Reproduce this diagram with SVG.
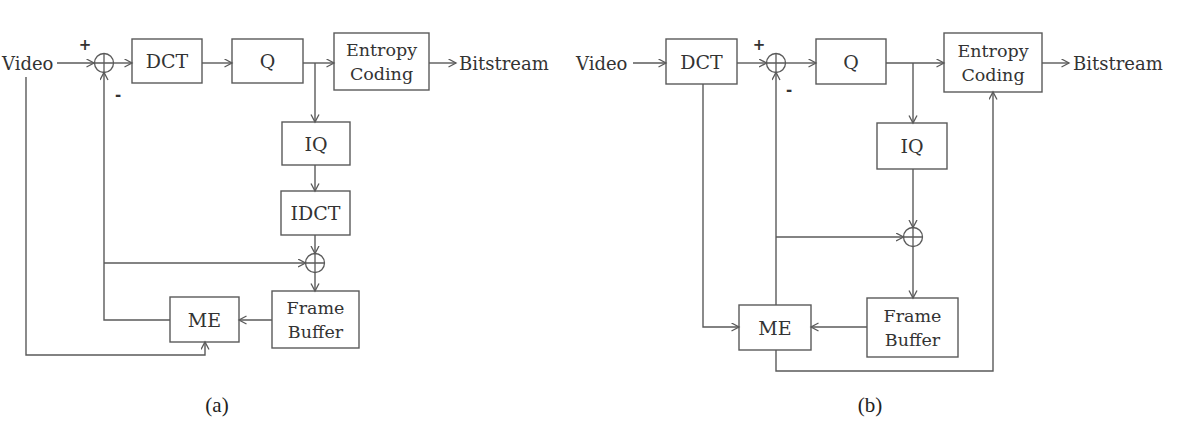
<svg xmlns="http://www.w3.org/2000/svg" width="1182" height="427" viewBox="0 0 1182 427">
  <style>
    .box { fill: #ffffff; stroke: #5a5a5a; stroke-width: 1.4; }
    .sum { fill: none; stroke: #5a5a5a; stroke-width: 1.3; }
    .wire { fill: none; stroke: #5a5a5a; stroke-width: 1.4; }
    .arr { marker-end: url(#head); }
    .lbl { font-family: "DejaVu Serif", "Liberation Serif", serif; font-size: 17.5px; fill: #333333; text-anchor: middle; dominant-baseline: central; }
    .big { font-size: 19px; }
    .io { font-family: "DejaVu Serif", "Liberation Serif", serif; font-size: 18px; fill: #333333; dominant-baseline: central; }
    .sign { font-family: "DejaVu Sans", "Liberation Sans", sans-serif; font-size: 15px; font-weight: bold; fill: #333333; text-anchor: middle; dominant-baseline: central; }
    .cap { font-family: "Liberation Serif", "Times New Roman", serif; font-size: 21px; fill: #222222; text-anchor: middle; dominant-baseline: central; }
  </style>
  <defs>
    <marker id="head" markerUnits="userSpaceOnUse" markerWidth="10" markerHeight="10" refX="8" refY="4.5" orient="auto">
      <path d="M0.5,0.5 L8,4.5 L0.5,8.5" fill="none" stroke="#5a5a5a" stroke-width="1.3"/>
    </marker>
  </defs>
  <rect width="1182" height="427" fill="#ffffff"/>

  <!-- (a) encoder with IDCT reconstruction loop -->
  <g id="a-video"><text class="io" x="2" y="63">Video</text></g>
  <g id="a-sum1">
    <circle class="sum" cx="104" cy="63" r="9.5"/>
    <path class="sum" d="M94.5,63 H113.5 M104,53.5 V72.5"/>
    <text class="sign" x="85" y="45">+</text>
    <text class="sign" x="118" y="95">-</text>
  </g>
  <g id="a-dct"><rect class="box" x="132" y="39" width="70" height="44"/><text class="lbl big" x="167" y="61">DCT</text></g>
  <g id="a-q"><rect class="box" x="232" y="39" width="71" height="44"/><text class="lbl big" x="267.5" y="61">Q</text></g>
  <g id="a-ec"><rect class="box" x="334" y="33" width="95" height="57"/><text class="lbl" x="381.5" y="50">Entropy</text><text class="lbl" x="381.5" y="74">Coding</text></g>
  <g id="a-bitstream"><text class="io" x="459" y="63">Bitstream</text></g>
  <g id="a-iq"><rect class="box" x="282" y="122" width="68" height="43"/><text class="lbl big" x="316" y="143.5">IQ</text></g>
  <g id="a-idct"><rect class="box" x="281" y="191" width="69" height="44"/><text class="lbl big" x="315.5" y="213">IDCT</text></g>
  <g id="a-sum2">
    <circle class="sum" cx="315" cy="263" r="9.5"/>
    <path class="sum" d="M305.5,263 H324.5 M315,253.5 V272.5"/>
  </g>
  <g id="a-me"><rect class="box" x="170" y="297" width="69" height="45"/><text class="lbl big" x="204.5" y="319.5">ME</text></g>
  <g id="a-fb"><rect class="box" x="272" y="291" width="87" height="57"/><text class="lbl" x="315.5" y="308">Frame</text><text class="lbl" x="315.5" y="332">Buffer</text></g>

  <g id="a-connectors">
    <path class="wire arr" d="M57,63 H94"/>
    <path class="wire arr" d="M113.5,63 H132"/>
    <path class="wire arr" d="M202,63 H232"/>
    <path class="wire arr" d="M303,63 H334"/>
    <path class="wire arr" d="M429,63 H456"/>
    <path class="wire arr" d="M315,63 V122"/>
    <path class="wire arr" d="M315,165 V191"/>
    <path class="wire arr" d="M315,235 V253.5"/>
    <path class="wire arr" d="M315,272.5 V291"/>
    <path class="wire arr" d="M104,263 H305.5"/>
    <path class="wire arr" d="M272,320 H239"/>
    <path class="wire arr" d="M170,320 H104 V72.5"/>
    <path class="wire arr" d="M26,77 V355 H205 V342"/>
  </g>

  <!-- (b) encoder with transform-domain reconstruction loop -->
  <g id="b-video"><text class="io" x="576" y="63">Video</text></g>
  <g id="b-dct"><rect class="box" x="666" y="39" width="71" height="45"/><text class="lbl big" x="701.5" y="61.5">DCT</text></g>
  <g id="b-sum1">
    <circle class="sum" cx="776" cy="63" r="9.5"/>
    <path class="sum" d="M766.5,63 H785.5 M776,53.5 V72.5"/>
    <text class="sign" x="759" y="45">+</text>
    <text class="sign" x="789" y="90">-</text>
  </g>
  <g id="b-q"><rect class="box" x="816" y="39" width="70" height="45"/><text class="lbl big" x="851" y="61.5">Q</text></g>
  <g id="b-ec"><rect class="box" x="944" y="33" width="98" height="59"/><text class="lbl" x="993" y="51">Entropy</text><text class="lbl" x="993" y="75">Coding</text></g>
  <g id="b-bitstream"><text class="io" x="1073" y="63">Bitstream</text></g>
  <g id="b-iq"><rect class="box" x="877" y="123" width="70" height="46"/><text class="lbl big" x="912" y="146">IQ</text></g>
  <g id="b-sum2">
    <circle class="sum" cx="913" cy="237" r="9.5"/>
    <path class="sum" d="M903.5,237 H922.5 M913,227.5 V246.5"/>
  </g>
  <g id="b-me"><rect class="box" x="739" y="305" width="72" height="45"/><text class="lbl big" x="775" y="327.5">ME</text></g>
  <g id="b-fb"><rect class="box" x="867" y="298" width="91" height="59"/><text class="lbl" x="912.5" y="316">Frame</text><text class="lbl" x="912.5" y="340">Buffer</text></g>

  <g id="b-connectors">
    <path class="wire arr" d="M633,63 H666"/>
    <path class="wire arr" d="M737,63 H766.5"/>
    <path class="wire arr" d="M785.5,63 H816"/>
    <path class="wire arr" d="M886,63 H944"/>
    <path class="wire arr" d="M1042,63 H1069"/>
    <path class="wire arr" d="M913,63 V123"/>
    <path class="wire arr" d="M913,169 V227.5"/>
    <path class="wire arr" d="M913,246.5 V298"/>
    <path class="wire arr" d="M776,237 H903.5"/>
    <path class="wire arr" d="M776,305 V72.5"/>
    <path class="wire arr" d="M703,84 V327 H739"/>
    <path class="wire arr" d="M867,327 H811"/>
    <path class="wire arr" d="M776,350 V371 H993 V92"/>
  </g>

  <g id="captions">
    <text class="cap" x="217" y="405">(a)</text>
    <text class="cap" x="870" y="405">(b)</text>
  </g>
</svg>
